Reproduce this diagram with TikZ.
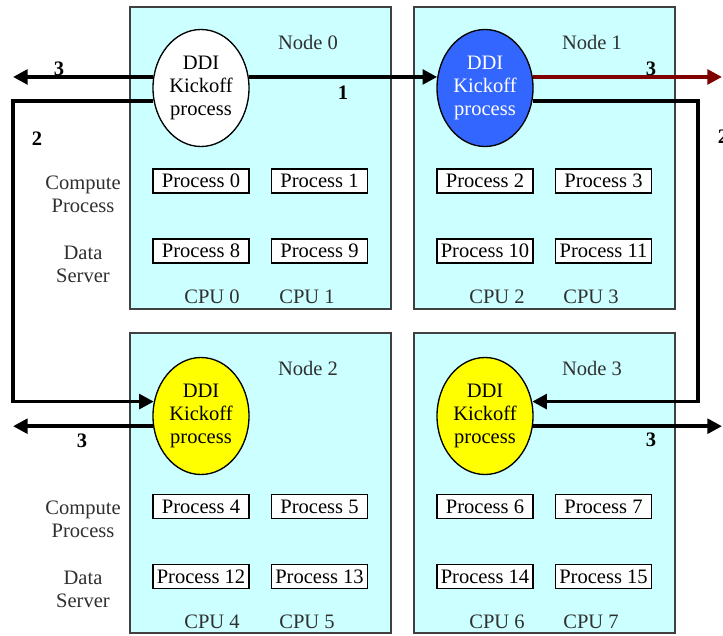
\documentclass[tikz,border=0pt]{standalone}
\usepackage{fontspec}
\setmainfont{Liberation Serif}
\usetikzlibrary{arrows.meta,shapes.geometric}
\definecolor{nodecyan}{HTML}{CCFFFF}
\definecolor{ddiblue}{HTML}{3366FF}
\definecolor{ddiyellow}{HTML}{FFFF00}
\definecolor{darkred}{HTML}{800000}
\definecolor{boxgray}{HTML}{404040}
\definecolor{txtgray}{HTML}{303030}
\begin{document}
\begin{tikzpicture}[x=0.75pt,y=-0.75pt,
  font=\fontsize{15.4}{17.3}\selectfont,
  nodebox/.style={draw=boxgray,line width=1.1pt,fill=nodecyan,inner sep=0pt,minimum width=195.75pt},
  ddi/.style={ellipse,draw=black,line width=1pt,minimum width=72pt,minimum height=87.75pt,inner sep=0pt,align=center},
  proc/.style={draw=black,line width=1pt,fill=white,minimum width=72pt,minimum height=18pt,inner sep=0pt},
  lbl/.style={align=center,inner sep=0pt,text=txtgray},
  num/.style={font=\fontsize{15.4}{17.3}\selectfont\bfseries,inner sep=0pt},
  link/.style={line width=2.8pt,-{Triangle[length=11pt,width=11pt]}},
]
\useasboundingbox (0,0) rectangle (723,635);
\fill[white] (0,0) rectangle (723,635);

% node boxes
\node[nodebox,minimum height=226.5pt] (n0) at (260.5,158) {};
\node[nodebox,minimum height=226.5pt] (n1) at (544.5,158) {};
\node[nodebox,minimum height=225pt] (n2) at (260.5,483) {};
\node[nodebox,minimum height=225pt] (n3) at (544.5,483) {};

\node[lbl] (t0) at (308,42) {Node 0};
\node[lbl] (t1) at (592,42) {Node 1};
\node[lbl] (t2) at (308,368) {Node 2};
\node[lbl] (t3) at (592,368) {Node 3};

% ellipses
\node[ddi,fill=white] (e0) at (201,88) {DDI\\Kickoff\\process};
\node[ddi,fill=ddiblue,text=white] (e1) at (485,88) {DDI\\Kickoff\\process};
\node[ddi,fill=ddiyellow] (e2) at (201,416) {DDI\\Kickoff\\process};
\node[ddi,fill=ddiyellow] (e3) at (485,416) {DDI\\Kickoff\\process};

% processes
\node[proc] (p0) at (201,181) {Process 0};
\node[proc] (p1) at (319.5,181) {Process 1};
\node[proc] (p8) at (201,251) {Process 8};
\node[proc] (p9) at (319.5,251) {Process 9};
\node[proc] (p2) at (485,181) {Process 2};
\node[proc] (p3) at (603.5,181) {Process 3};
\node[proc] (p10) at (485,251) {Process 10};
\node[proc] (p11) at (603.5,251) {Process 11};
\node[proc] (p4) at (201,506.5) {Process 4};
\node[proc] (p5) at (319.5,506.5) {Process 5};
\node[proc] (p12) at (201,576.5) {Process 12};
\node[proc] (p13) at (319.5,576.5) {Process 13};
\node[proc] (p6) at (485,506.5) {Process 6};
\node[proc] (p7) at (603.5,506.5) {Process 7};
\node[proc] (p14) at (485,576.5) {Process 14};
\node[proc] (p15) at (603.5,576.5) {Process 15};

% CPU labels
\node[lbl] (c0) at (212,297) {CPU 0};
\node[lbl] (c1) at (307,297) {CPU 1};
\node[lbl] (c2) at (497,297) {CPU 2};
\node[lbl] (c3) at (591,297) {CPU 3};
\node[lbl] (c4) at (212,622) {CPU 4};
\node[lbl] (c5) at (307,622) {CPU 5};
\node[lbl] (c6) at (497,622) {CPU 6};
\node[lbl] (c7) at (591,622) {CPU 7};

% side labels
\node[lbl] (cp0) at (83,194) {Compute\\Process};
\node[lbl] (ds0) at (83,264) {Data\\Server};
\node[lbl] (cp2) at (83,519) {Compute\\Process};
\node[lbl] (ds2) at (83,589) {Data\\Server};

% connector ends
\coordinate (tipL) at (13,0);
\coordinate (tipR) at (722,0);
\coordinate (turnL) at (13,250);
\coordinate (turnR) at (698,250);

\draw[link] (e0.167) -- (e0.167 -| tipL);
\draw[link] (e0.13) -- (e1.167);
\draw[link,draw=darkred] (e1.13) -- (e1.13 -| tipR);
\draw[link] (e0.195) -| (turnL) |- (e2.163);
\draw[link] (e1.-15) -| (turnR) |- (e3.17);
\draw[link] (e2.192) -- (e2.192 -| tipL);
\draw[link] (e3.-12) -- (e3.-12 -| tipR);

% numbers
\node[num] (k1) at (59,69) {3};
\node[num] (k2) at (343,93) {1};
\node[num] (k3) at (37,139) {2};
\node[num] (k4) at (651,69) {3};
\node[num] (k5) at (723,137) {2};
\node[num] (k6) at (82,441) {3};
\node[num] (k7) at (651,440) {3};
\end{tikzpicture}
\end{document}
